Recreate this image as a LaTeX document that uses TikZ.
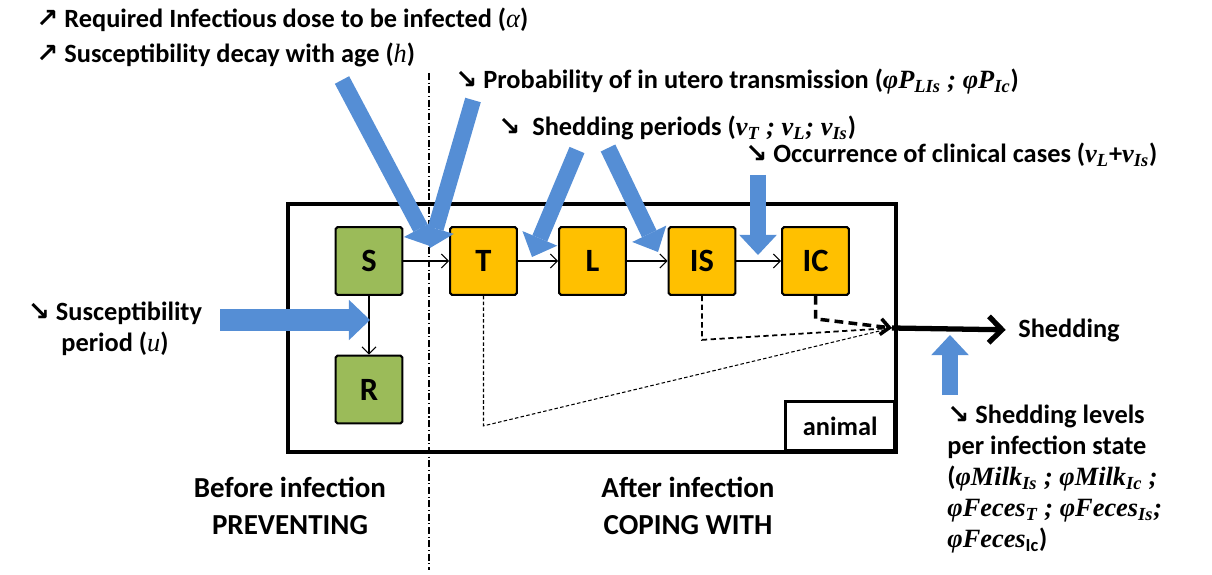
\documentclass[tikz,border=0pt]{standalone}
\usepackage{fontspec}
\setmainfont{Carlito}
\newfontfamily\mf{Liberation Serif}
\newfontfamily\arr{DejaVu Sans}
\usetikzlibrary{arrows.meta}
\definecolor{bluearr}{RGB}{85,142,213}
\definecolor{gfill}{RGB}{155,187,89}
\definecolor{ofill}{RGB}{255,192,0}
\newcommand{\mi}[1]{{\mf\itshape\mdseries #1}}
\newcommand{\mb}[1]{{\mf\itshape\bfseries #1}}
\newcommand{\ua}{{\arr\bfseries ↗}}
\newcommand{\da}{{\arr\bfseries ↘}}
\begin{document}
\begin{tikzpicture}[x=0.02cm,y=-0.02cm,
  font=\fontsize{15}{17.6}\selectfont\bfseries,
  statebox/.style={draw, line width=1.2pt, rounded corners=1pt, minimum width=38pt, minimum height=38.5pt, inner sep=0pt, font=\fontsize{18.5}{20}\selectfont\bfseries},
  gbox/.style={statebox, fill=gfill},
  obox/.style={statebox, fill=ofill},
  thinarr/.style={draw, line width=0.6pt, -{Straight Barb[length=4pt,width=8pt]}},
  blu/.style={draw=bluearr, line width=9.2pt, -{Triangle[length=11.5pt,width=21.5pt,line width=0pt]}, color=bluearr},
  bluwide/.style={draw=bluearr, line width=12.5pt, -{Triangle[length=12pt,width=23pt,line width=0pt]}, color=bluearr},
  txt/.style={anchor=west, inner sep=0pt},
  title/.style={align=center, inner sep=0pt, font=\fontsize{16.5}{21}\selectfont\bfseries}
]
\useasboundingbox (0,0) rectangle (1212,574);

% dash-dot separator
\draw[line width=0.6pt, dash pattern=on 4pt off 1.5pt on 0.6pt off 1.5pt] (429,73) -- (429,570);

% outer animal box
\draw[line width=2.3pt] (288,204) rectangle (896,452);
\node[draw, line width=1.7pt, anchor=south east, minimum width=61.8pt, minimum height=27.8pt, inner sep=0pt] (animal) at (896,452) {animal};

% state boxes
\node[gbox] (S) at (369,261) {S};
\node[gbox] (R) at (369,389.5) {R};
\node[obox] (T) at (483.5,261) {T};
\node[obox] (L) at (592.5,261) {L};
\node[obox] (IS) at (702,261) {IS};
\node[obox] (IC) at (815.5,261) {IC};

\draw[thinarr] (S) -- (T);
\draw[thinarr] (T) -- (L);
\draw[thinarr] (L) -- (IS);
\draw[thinarr] (IS) -- (IC);
\draw[thinarr] (S) -- (R);

% shedding lines
\coordinate (P) at (892,328);
\draw[line width=0.6pt, dash pattern=on 2pt off 1.3pt] (T.south) -- ++(0,130) -- (P);
\draw[line width=1pt, dash pattern=on 3pt off 2pt] (IS.south) -- ++(0,44) -- (P);
\draw[line width=2pt, dash pattern=on 5pt off 3pt, -{Straight Barb[length=5pt,width=9pt]}] (IC.south) -- ++(0,23) -- (P);

\node[txt] (shed) at (1018,330) {Shedding};
\draw[line width=3pt, -{Straight Barb[length=7.5pt,width=15pt]}, shorten >=7pt] (P) -- (shed.west);

% text annotations
\node[txt] (t1) at (36,20) {\ua\ Required Infectious dose to be infected (\mi{α})};
\node[txt] (t2) at (36,55) {\ua\ Susceptibility decay with age (\mi{h})};
\node[txt] (t3) at (455,82) {\da\ Probability of in utero transmission (\mb{φP\textsubscript{LIs} ; φP\textsubscript{Ic}})};
\node[txt] (t4) at (498,128) {\da\ \ Shedding periods (\mb{v\textsubscript{T} ; v\textsubscript{L}; v\textsubscript{Is}})};
\node[txt] (t5) at (745,155) {\da\ Occurrence of clinical cases (\mb{v\textsubscript{L}}+\mb{v\textsubscript{Is}})};
\node[align=center, inner sep=0pt] (t6) at (115,329) {\da\ Susceptibility\\period (\mi{u})};
\node[anchor=north west, align=left, inner sep=0pt] (t7) at (947,405) {\da\ Shedding levels\\per infection state\\(\mb{φMilk\textsubscript{Is} ; φMilk\textsubscript{Ic} ;}\\\mb{φFeces\textsubscript{T} ; φFeces\textsubscript{Is};}\\\mb{φFeces}\textsubscript{Ic})};

\node[title] (before) at (290,506) {Before infection\\PREVENTING};
\node[title] (after) at (688,506) {After infection\\COPING WITH};

% blue arrows
\coordinate (a1s) at (342,80);   \coordinate (a1e) at (430,246);
\coordinate (a2s) at (473,100);  \coordinate (a2e) at (430,248);
\coordinate (a3s) at (577,150);  \coordinate (a3e) at (532,257);
\coordinate (a4s) at (608,148);  \coordinate (a4e) at (658,252);
\coordinate (a5s) at (758,175);  \coordinate (a5e) at (758,255);
\coordinate (a6s) at (220,320);  \coordinate (a6e) at (370,320);
\coordinate (a7s) at (950,395);  \coordinate (a7e) at (950,335);
\draw[blu] (a1s) -- (a1e);
\draw[blu] (a2s) -- (a2e);
\draw[blu] (a3s) -- (a3e);
\draw[blu] (a4s) -- (a4e);
\draw[blu] (a5s) -- (a5e);
\draw[bluwide] (a6s) -- (a6e);
\draw[blu] (a7s) -- (a7e);
\end{tikzpicture}
\end{document}
